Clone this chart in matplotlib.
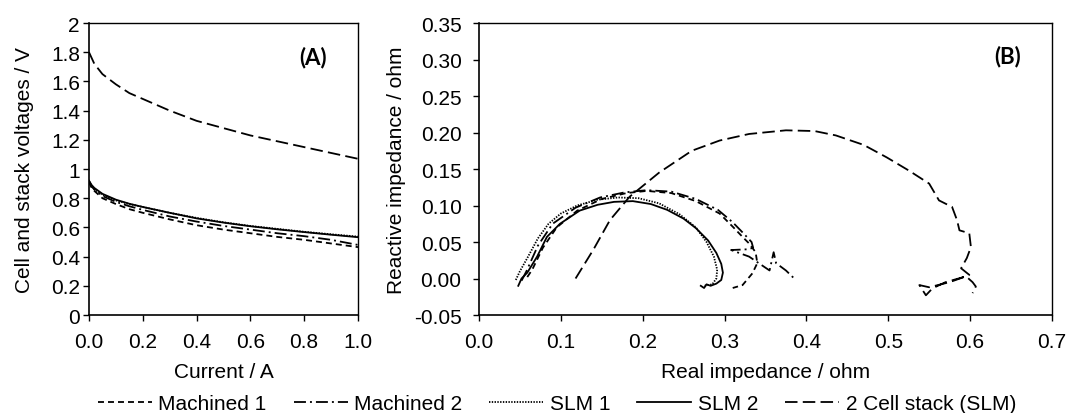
import matplotlib as mpl
import matplotlib.pyplot as plt
from matplotlib.ticker import FixedLocator, FuncFormatter

# (A) polarisation curves
current = [0.0, 0.01, 0.02, 0.05, 0.1, 0.15, 0.2, 0.3, 0.4, 0.5, 0.6, 0.7, 0.8, 0.9, 1.0]
v_machined1 = [0.91, 0.87, 0.85, 0.80, 0.76, 0.725, 0.70, 0.655, 0.615, 0.585, 0.56, 0.535, 0.515, 0.49, 0.465]
v_machined2 = [0.92, 0.88, 0.86, 0.815, 0.775, 0.745, 0.72, 0.675, 0.64, 0.61, 0.585, 0.56, 0.54, 0.515, 0.48]
v_slm1 = [0.91, 0.88, 0.86, 0.825, 0.785, 0.76, 0.74, 0.70, 0.665, 0.635, 0.61, 0.59, 0.57, 0.553, 0.537]
v_slm2 = [0.92, 0.89, 0.87, 0.83, 0.79, 0.762, 0.74, 0.70, 0.662, 0.633, 0.608, 0.587, 0.568, 0.55, 0.533]
v_stack = [1.80, 1.76, 1.72, 1.65, 1.58, 1.52, 1.48, 1.40, 1.33, 1.28, 1.23, 1.19, 1.15, 1.11, 1.07]

# (B) impedance spectra
re_machined1 = [0.059, 0.065, 0.078, 0.095, 0.12, 0.15, 0.18, 0.205, 0.235, 0.265, 0.294, 0.31,
                0.322, 0.33, 0.338, 0.34, 0.334, 0.322, 0.31]
im_machined1 = [0.002, 0.012, 0.042, 0.07, 0.093, 0.109, 0.117, 0.12, 0.117, 0.106, 0.089, 0.071,
                0.057, 0.048, 0.036, 0.021, 0.007, -0.009, -0.013]
re_machined2 = [0.052, 0.058, 0.072, 0.09, 0.118, 0.148, 0.178, 0.205, 0.235, 0.265, 0.292, 0.31,
                0.323, 0.333, 0.335, 0.328, 0.308, 0.33, 0.355, 0.36, 0.363, 0.375, 0.387]
im_machined2 = [-0.003, 0.01, 0.045, 0.075, 0.097, 0.111, 0.118, 0.121, 0.119, 0.109, 0.094, 0.077,
                0.062, 0.05, 0.042, 0.04, 0.039, 0.03, 0.011, 0.036, 0.021, 0.011, -0.002]
re_slm1 = [0.045, 0.05, 0.06, 0.072, 0.085, 0.1, 0.12, 0.145, 0.17, 0.195, 0.22, 0.245, 0.265,
           0.278, 0.287, 0.291, 0.29, 0.285, 0.275]
im_slm1 = [-0.002, 0.01, 0.03, 0.055, 0.075, 0.089, 0.1, 0.108, 0.111, 0.11, 0.103, 0.088, 0.07,
           0.05, 0.03, 0.012, 0.0, -0.008, -0.01]
re_slm2 = [0.048, 0.052, 0.059, 0.071, 0.083, 0.099, 0.123, 0.145, 0.165, 0.188, 0.21, 0.23, 0.25,
           0.265, 0.28, 0.29, 0.296, 0.298, 0.296, 0.29, 0.283, 0.278, 0.275, 0.271]
im_slm2 = [-0.01, 0.0, 0.008, 0.03, 0.057, 0.075, 0.093, 0.101, 0.105, 0.106, 0.102, 0.094, 0.082,
           0.069, 0.052, 0.035, 0.02, 0.008, -0.002, -0.007, -0.01, -0.008, -0.013, -0.01]
re_stack = [0.118, 0.14, 0.16, 0.184, 0.196, 0.22, 0.26, 0.294, 0.33, 0.375, 0.41, 0.436, 0.47,
            0.498, 0.525, 0.55, 0.562, 0.578, 0.584, 0.587, 0.599, 0.601, 0.596, 0.589, 0.599,
            0.589, 0.57, 0.554, 0.546, 0.538, 0.55, 0.575, 0.595, 0.603, 0.607, 0.603]
im_stack = [0.0, 0.04, 0.08, 0.112, 0.123, 0.145, 0.175, 0.189, 0.198, 0.203, 0.202, 0.196, 0.183,
            0.166, 0.148, 0.13, 0.107, 0.098, 0.08, 0.066, 0.062, 0.043, 0.028, 0.014, 0.005,
            0.001, -0.005, -0.0135, -0.023, -0.009, -0.012, -0.005, 0.003, -0.005, -0.011, -0.02]

labels = ["Machined 1", "Machined 2", "SLM 1", "SLM 2", "2 Cell stack (SLM)"]

FONT = 15
mpl.rcParams.update({
    "font.family": ["Liberation Sans", "DejaVu Sans"],
    "font.size": FONT,
    "lines.scale_dashes": False,
    "axes.linewidth": 1.2,
    "xtick.direction": "out",
    "ytick.direction": "out",
    "xtick.major.size": 4.5,
    "ytick.major.size": 4.5,
    "xtick.major.width": 1.0,
    "ytick.major.width": 1.0,
})

styles = [
    dict(linestyle=(0, (4.3, 2.9))),
    dict(linestyle=(0, (8.6, 2.9, 1.4, 2.9))),
    dict(linestyle=(0, (1.0, 1.0))),
    dict(linestyle="-"),
    dict(linestyle=(0, (9.0, 3.8))),
]
LW = 1.3

fig = plt.figure(figsize=(10.67, 4.14), dpi=100)
ax1 = fig.add_axes([0.0834, 0.2367, 0.2521, 0.7053])
ax2 = fig.add_axes([0.4489, 0.2367, 0.5370, 0.7053])

left_series = [v_machined1, v_machined2, v_slm1, v_slm2, v_stack]
handles = []
for vals, st, lab in zip(left_series, styles, labels):
    (h,) = ax1.plot(current, vals, color="black", lw=LW, label=lab, **st)
    handles.append(h)

right_series = [(re_machined1, im_machined1), (re_machined2, im_machined2), (re_slm1, im_slm1),
                (re_slm2, im_slm2), (re_stack, im_stack)]
for (xs, ys), st in zip(right_series, styles):
    ax2.plot(xs, ys, color="black", lw=LW, **st)

ax1.set_xlim(0, 1.0)
ax1.set_ylim(0, 2)
ax1.xaxis.set_major_locator(FixedLocator([0, 0.2, 0.4, 0.6, 0.8, 1.0]))
ax1.xaxis.set_major_formatter(FuncFormatter(lambda v, p: f"{v:.1f}"))
ax1.yaxis.set_major_locator(FixedLocator([i * 0.2 for i in range(11)]))
ax1.yaxis.set_major_formatter(FuncFormatter(lambda v, p: f"{round(v, 1):g}"))
ax1.set_xlabel("Current / A", labelpad=8)
ax1.set_ylabel("Cell and stack voltages / V", labelpad=12)
ax1.tick_params(axis="y", pad=2)
ax1.text(0.833, 0.884, "(A)", transform=ax1.transAxes, ha="center", va="center",
         fontsize=16, fontweight="bold", family=["Lato", "DejaVu Sans"])

ax2.set_xlim(0, 0.7)
ax2.set_ylim(-0.05, 0.35)
ax2.xaxis.set_major_locator(FixedLocator([i * 0.1 for i in range(8)]))
ax2.xaxis.set_major_formatter(FuncFormatter(lambda v, p: f"{v:.1f}"))
ax2.yaxis.set_major_locator(FixedLocator([-0.05 + i * 0.05 for i in range(9)]))
ax2.yaxis.set_major_formatter(FuncFormatter(lambda v, p: f"{v:.2f}"))
ax2.set_xlabel("Real impedance / ohm", labelpad=8)
ax2.set_ylabel("Reactive impedance / ohm", labelpad=6)
ax2.tick_params(axis="y", pad=8)
ax2.text(0.923, 0.887, "(B)", transform=ax2.transAxes, ha="center", va="center",
         fontsize=16, fontweight="bold", family=["Lato", "DejaVu Sans"])

for ax in (ax1, ax2):
    ax.tick_params(axis="x", pad=8)
    ax.tick_params(top=False, right=False)
    for side in ("top", "right"):
        ax.spines[side].set_linewidth(1.0)

fig.legend(handles, labels, loc="center", bbox_to_anchor=(0.522, 0.022), ncol=5,
           frameon=False, handlelength=2.6, handletextpad=0.3, columnspacing=1.3,
           borderaxespad=0, fontsize=FONT)

fig.savefig("out.png", dpi=100)
